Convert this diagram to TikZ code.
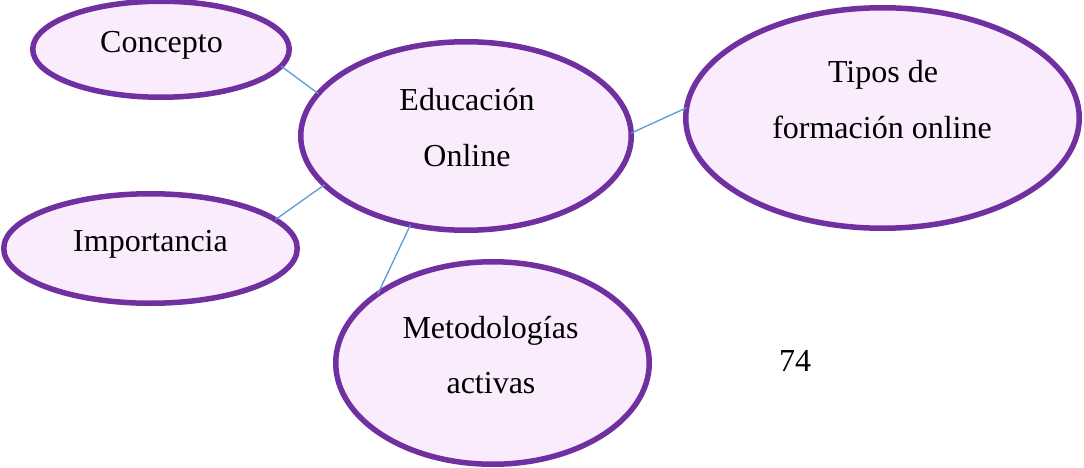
\documentclass[tikz,border=0pt]{standalone}
\usepackage{fontspec}
\setmainfont{Liberation Serif}
\usetikzlibrary{shapes.geometric}
\definecolor{ovalline}{HTML}{7030A0}
\definecolor{ovalfill}{HTML}{FAEBFD}
\definecolor{linkblue}{HTML}{5B9BD5}
\tikzset{
  oval/.style={ellipse, draw=ovalline, fill=ovalfill, line width=5.5pt, inner sep=0pt, outer sep=0pt},
  lbl/.style={anchor=base, inner sep=0pt, font=\fontsize{32}{38}\selectfont},
  link/.style={draw=linkblue, line width=1.3pt}
}
\begin{document}
\begin{tikzpicture}[x=1pt,y=-1pt]
\useasboundingbox (0,0) rectangle (1084,468);
% ovals (outer size minus stroke)
\node[oval, minimum width=256.5pt, minimum height=96pt] (concepto) at (161,49.25) {};
\node[oval, minimum width=330.5pt, minimum height=188.5pt] (edu) at (466,136) {};
\node[oval, minimum width=393.5pt, minimum height=220.5pt] (tipos) at (882.5,118) {};
\node[oval, minimum width=293.5pt, minimum height=109.5pt] (imp) at (150.5,248.5) {};
\node[oval, minimum width=313.5pt, minimum height=202.5pt] (met) at (492.5,363) {};
% connectors
\draw[link] (concepto.-8.6) -- (edu.164);
\draw[link] (edu.1.3) -- (tipos.177.7);
\draw[link] (imp.13.3) -- (edu.199.9);
\draw[link] (edu.-122.1) -- (met.149.6);
% texts
\node[lbl] (tconcepto) at (161.5,53) {Concepto};
\node[lbl] (tedu1) at (467,110.7) {Educación};
\node[lbl] (tedu2) at (467,166.7) {Online};
\node[lbl] (ttipos1) at (883,82.3) {Tipos de};
\node[lbl] (ttipos2) at (882,138.3) {formación online};
\node[lbl] (timp) at (150.5,251) {Importancia};
\node[lbl] (tmet1) at (490.5,338.3) {Metodologías};
\node[lbl] (tmet2) at (491,393.3) {activas};
\node[lbl] (tnum) at (795,371.7) {74};
\end{tikzpicture}
\end{document}
